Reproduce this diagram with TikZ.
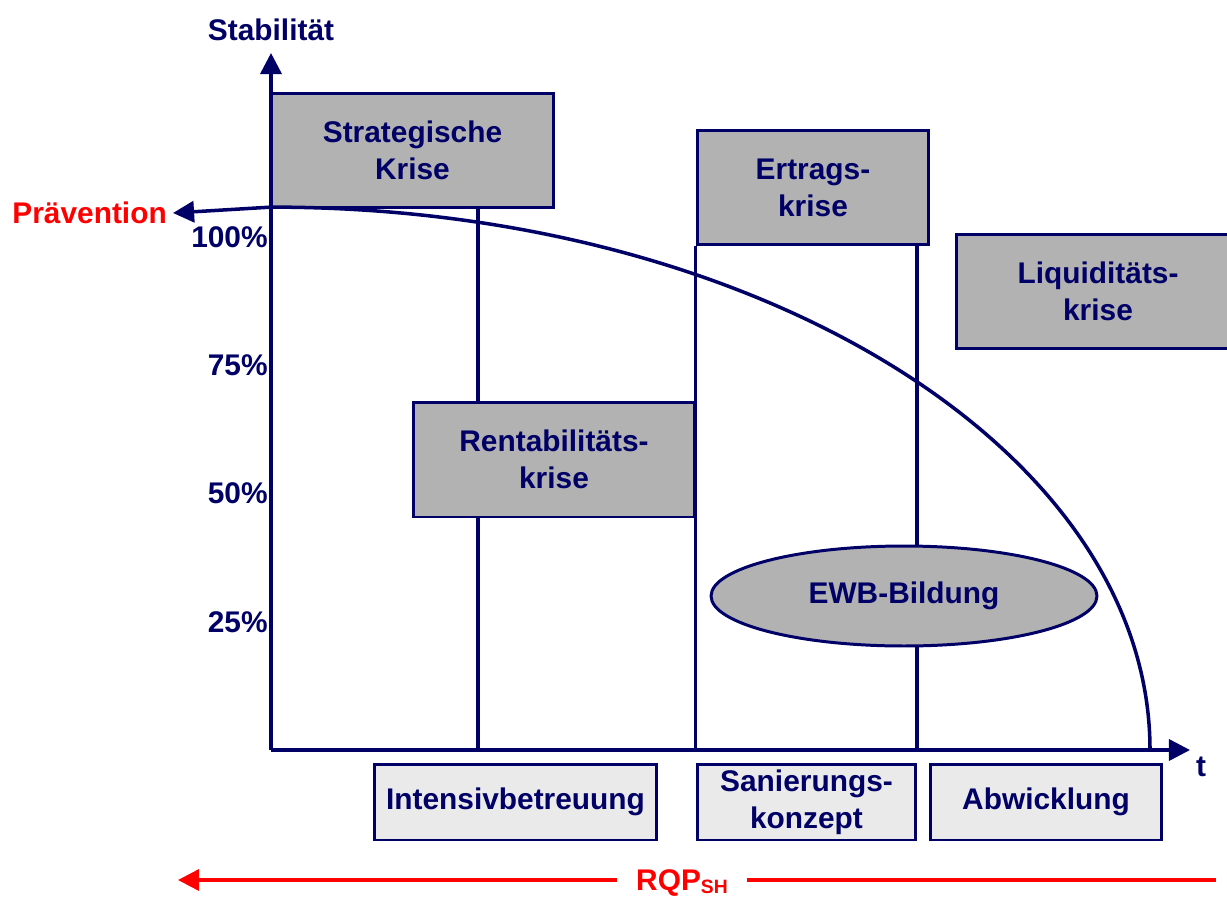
\documentclass[tikz,border=0pt]{standalone}
\usepackage{fontspec}
\setmainfont{Liberation Sans}
\usetikzlibrary{arrows.meta,shapes.geometric,backgrounds}
\definecolor{navy}{RGB}{0,0,102}
\definecolor{kastengrau}{RGB}{178,178,178}
\definecolor{hellgrau}{RGB}{234,234,234}
\definecolor{rot}{RGB}{255,0,0}

\begin{document}
\begin{tikzpicture}[
  x=0.02cm, y=-0.02cm,
  every node/.style={font=\fontsize{17}{21}\selectfont\bfseries, text=navy, align=center},
  krise/.style={draw=navy, line width=1.7pt, fill=kastengrau, minimum height=2.3cm, inner sep=0pt},
  massnahme/.style={draw=navy, line width=1.7pt, fill=hellgrau, minimum height=1.52cm, inner sep=0pt},
  linie/.style={draw=navy, line width=2pt},
  pfeil/.style={linie, -{Triangle[length=12pt,width=12pt]}}
]
\path[use as bounding box] (0,0) rectangle (1227,899);
\clip (0,0) rectangle (1227,899);

\coordinate (o) at (271,750);
\coordinate (xend) at (1190,750);
\coordinate (yend) at (271,53);
\coordinate (t1) at (478,750);
\coordinate (t3) at (917,750);

\node (strat) [krise, minimum width=5.66cm] at (412.5,150.5) {Strategische\\Krise};
\node (rent) [krise, minimum width=5.64cm] at (554,459.5) {Rentabilitäts-\\krise};
\node (ertrag) [krise, minimum width=4.64cm] at (813,187.5) {Ertrags-\\krise};
\node (liq) [krise, minimum width=5.68cm] at (1098,291.5) {Liquiditäts-\\krise};
\node (ewb) [krise, ellipse, minimum width=7.72cm, minimum height=2cm] at (904,596) {EWB-Bildung};

\node (intens) [massnahme, minimum width=5.66cm] at (515.5,802) {Intensivbetreuung};
\node (sanier) [massnahme, minimum width=4.38cm] at (806.5,802) {Sanierungs-\\konzept};
\node (abw) [massnahme, minimum width=4.64cm] at (1046,802) {Abwicklung};

\node (stab) at (271,30) {Stabilität};
\node (t) at (1201,767) {t};
\node (praev) [anchor=east, text=rot] at (173,213) {Prävention};
\foreach \p/\y in {100/237,75/365,50/493,25/622}
  \node (p\p) [anchor=east, inner sep=0pt] at (268,\y) {\p\%};

\begin{scope}[on background layer]
\draw[linie] (t1) -- (t1 |- strat.south);
\draw[linie] (ertrag.south west |- o) -- (ertrag.south west);
\draw[linie] (t3) -- (t3 |- ertrag.south);
\end{scope}

\draw[pfeil] (o) -- (xend);
\draw[pfeil] (o) -- (yend);
\draw[pfeil] (1150,750) arc[start angle=0, end angle=90, x radius=17.58cm, y radius=10.86cm] -- (praev.east);

\coordinate (rqpL) at (178,880);
\coordinate (rqpR) at (1216,880);
\node (rqp) [text=rot, anchor=base, inner xsep=11pt] at (682,890) {RQP\raisebox{-0.25ex}{\fontsize{11}{11}\selectfont SH}};
\draw[pfeil, draw=rot] (rqp.west |- rqpL) -- (rqpL);
\draw[linie, draw=rot] (rqp.east |- rqpR) -- (rqpR);
\end{tikzpicture}
\end{document}
